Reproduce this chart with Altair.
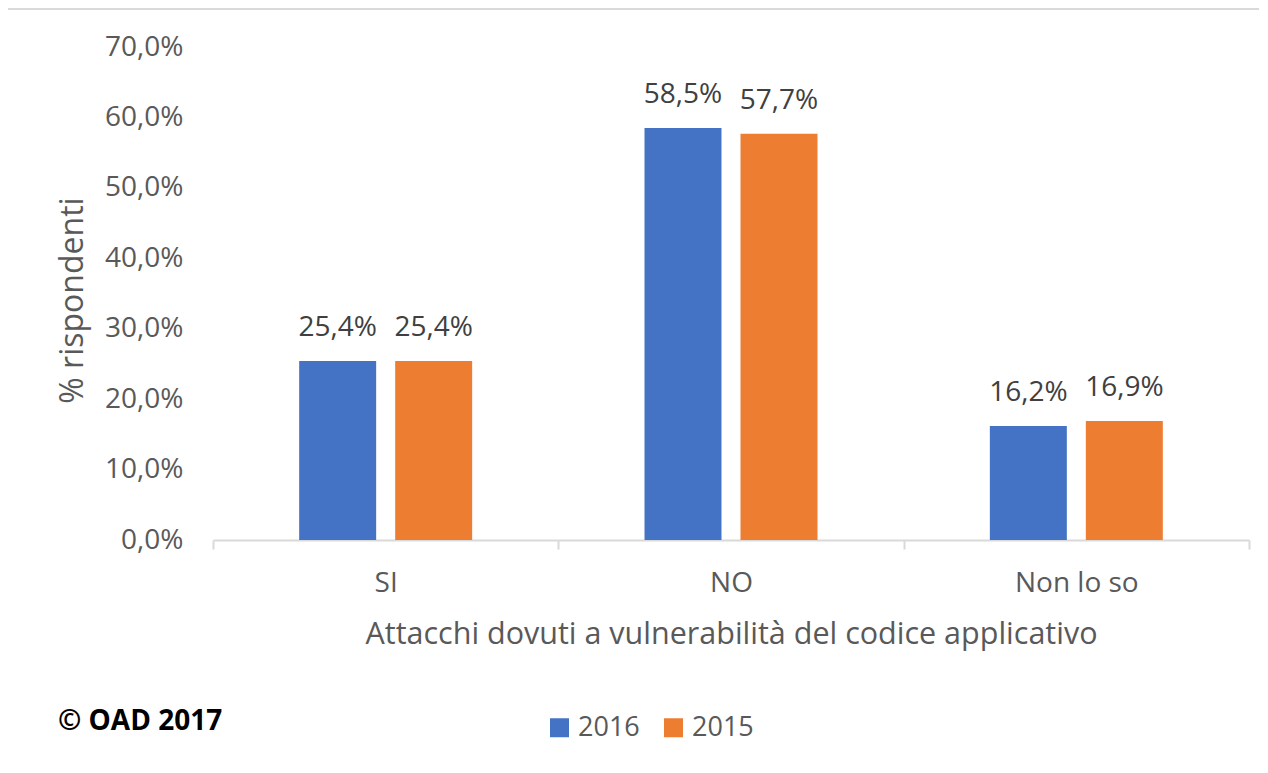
import altair as alt
import pandas as pd

categories = ["SI", "NO", "Non lo so"]
years = ["2016", "2015"]
values_2016 = [25.4, 58.5, 16.2]
values_2015 = [25.4, 57.7, 16.9]
y_ticks = [0, 10, 20, 30, 40, 50, 60, 70]
colors = ["#4472C4", "#ED7D31"]
note = "© OAD 2017"

rows = []
for c, v16, v15 in zip(categories, values_2016, values_2015):
    rows.append({"cat": c, "year": "2016", "val": v16})
    rows.append({"cat": c, "year": "2015", "val": v15})
df = pd.DataFrame(rows)
df["label"] = df["val"].map(lambda v: f"{v:.1f}".replace(".", ",") + "%")

FONT = "Open Sans"
GRAY = "#595959"

x_enc = alt.X(
    "cat:N",
    sort=categories,
    scale=alt.Scale(paddingInner=0, paddingOuter=0),
    axis=alt.Axis(
        title="Attacchi dovuti a vulnerabilità del codice applicativo",
        labelAngle=0,
        labelFont=FONT,
        labelFontSize=28,
        labelColor=GRAY,
        labelBaseline="alphabetic",
        labelPadding=42,
        titleFont=FONT,
        titleFontSize=30.5,
        titleFontWeight="normal",
        titleColor=GRAY,
        titleBaseline="alphabetic",
        titleY=103,
        domainColor="#d9d9d9",
        domainWidth=2,
        tickColor="#d9d9d9",
        tickWidth=2,
        tickSize=9,
        tickBand="extent",
        grid=False,
    ),
)
xoff = alt.XOffset(
    "year:N",
    sort=years,
    scale=alt.Scale(paddingInner=0.198, paddingOuter=0.8976),
)
y_enc = alt.Y(
    "val:Q",
    scale=alt.Scale(domain=[0, 70], nice=False),
    axis=alt.Axis(
        title="% rispondenti",
        values=y_ticks,
        labelExpr="replace(format(datum.value, '.1f'), '.', ',') + '%'",
        labelFont=FONT,
        labelFontSize=28,
        labelColor=GRAY,
        labelPadding=30,
        ticks=False,
        domain=False,
        grid=False,
        titleFont=FONT,
        titleFontSize=32,
        titleFontWeight="normal",
        titleColor=GRAY,
        titleBaseline="alphabetic",
        titleAlign="center",
        titleX=-131,
        titleY=253,
    ),
)
color_enc = alt.Color(
    "year:N",
    sort=years,
    scale=alt.Scale(domain=years, range=colors),
    legend=alt.Legend(
        title=None,
        orient="none",
        direction="horizontal",
        legendX=333,
        legendY=667,
        symbolType="square",
        symbolSize=361,
        symbolStrokeWidth=0,
        labelFont=FONT,
        labelFontSize=27,
        labelColor=GRAY,
        labelOffset=5,
        columnPadding=20,
    ),
)

base = alt.Chart(df)
bars = base.mark_bar().encode(x=x_enc, xOffset=xoff, y=y_enc, color=color_enc)
labels = base.mark_text(
    font=FONT, fontSize=28, color="#404040", baseline="alphabetic", dy=-25
).encode(x=alt.X("cat:N", sort=categories), xOffset=alt.XOffset("year:N", sort=years), y="val:Q", text="label:N")

note_df = pd.DataFrame({"t": [note]})
note_layer = alt.Chart(note_df).mark_text(
    font=FONT, fontSize=28, fontWeight="bold", color="#000000", align="left", baseline="alphabetic"
).encode(x=alt.value(-155), y=alt.value(683), text="t:N")

border_top = alt.Chart(note_df).mark_rule(color="#d9d9d9", strokeWidth=2).encode(
    x=alt.value(-206), x2=alt.value(1060), y=alt.value(-38)
)
border_left = alt.Chart(note_df).mark_rule(color="#d9d9d9", strokeWidth=2).encode(
    x=alt.value(-206), y=alt.value(-38), y2=alt.value(730)
)

chart = (
    alt.layer(border_top, border_left, bars, labels, note_layer)
    .properties(
        width=1036,
        height=493,
        autosize=alt.AutoSizeParams(type="none"),
        padding={"left": 205, "top": 39, "right": 10, "bottom": 220},
        background="white",
    )
    .configure_view(stroke=None)
)

chart.save("out.html", embed_options={"renderer": "svg", "actions": False})
